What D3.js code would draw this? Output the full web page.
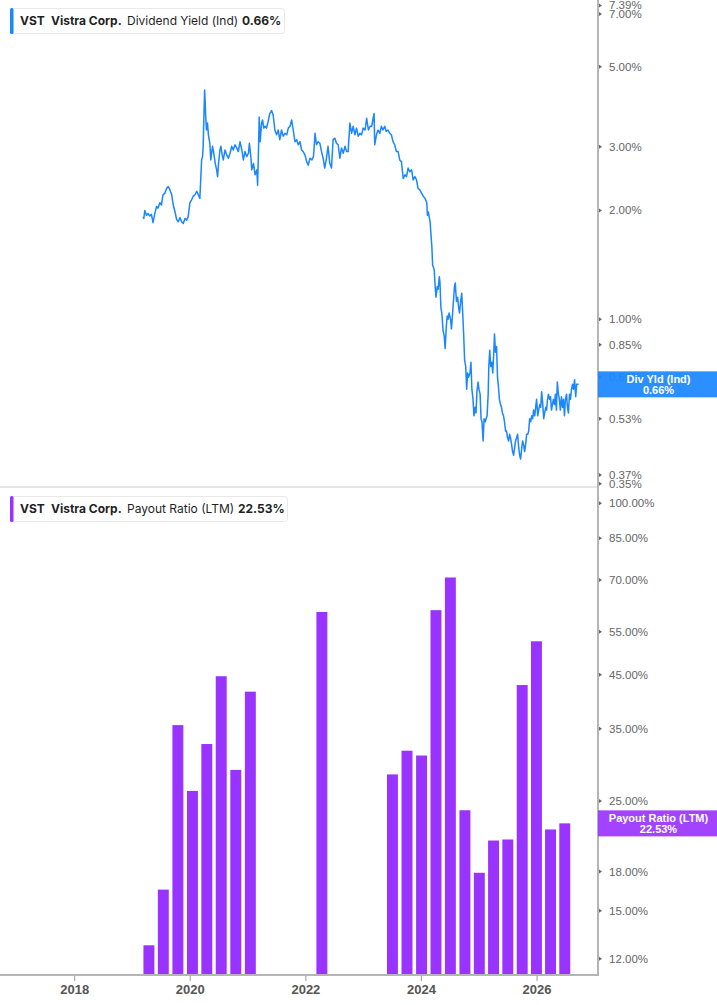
<!DOCTYPE html>
<html>
<head>
<meta charset="utf-8">
<script src="https://cdn.jsdelivr.net/npm/d3@7"></script>
<style>
  body { margin: 0; background: #fff; }
  svg { display: block; }
</style>
</head>
<body>
<script>
'use strict';

// dividend yield (ind), %
var yieldDates = [
  "2019-03-09","2019-03-14","2019-03-20","2019-03-31","2019-04-10","2019-04-20","2019-05-01","2019-05-11","2019-05-22","2019-06-02",
  "2019-06-12","2019-06-23","2019-07-03","2019-07-13","2019-07-24","2019-08-05","2019-08-15","2019-08-26","2019-09-06","2019-09-16",
  "2019-09-27","2019-10-07","2019-10-17","2019-10-28","2019-11-08","2019-11-18","2019-11-29","2019-12-09","2019-12-19","2019-12-30",
  "2020-01-10","2020-01-20","2020-01-31","2020-02-11","2020-02-21","2020-03-02","2020-03-13","2020-03-19","2020-03-23","2020-03-27",
  "2020-04-01","2020-04-04","2020-04-08","2020-04-13","2020-04-19","2020-04-26","2020-05-04","2020-05-10","2020-05-21","2020-05-29",
  "2020-06-07","2020-06-16","2020-06-22","2020-06-28","2020-07-07","2020-07-13","2020-07-21","2020-07-28","2020-08-08","2020-08-18",
  "2020-08-29","2020-09-09","2020-09-19","2020-09-29","2020-10-10","2020-10-21","2020-10-31","2020-11-11","2020-11-22","2020-12-02",
  "2020-12-12","2020-12-23","2021-01-03","2021-01-09","2021-01-18","2021-01-24","2021-02-04","2021-02-14","2021-02-25","2021-03-02",
  "2021-03-08","2021-03-12","2021-03-18","2021-03-27","2021-04-02","2021-04-10","2021-04-18","2021-04-27","2021-05-07","2021-05-18",
  "2021-05-29","2021-06-08","2021-06-19","2021-06-30","2021-07-10","2021-07-20","2021-07-31","2021-08-11","2021-08-22","2021-09-02",
  "2021-09-12","2021-09-23","2021-10-03","2021-10-13","2021-10-24","2021-11-04","2021-11-14","2021-11-25","2021-12-05","2021-12-15",
  "2021-12-26","2022-01-06","2022-01-16","2022-01-27","2022-02-08","2022-02-18","2022-02-28","2022-03-09","2022-03-19","2022-03-30",
  "2022-04-10","2022-04-20","2022-04-30","2022-05-11","2022-05-21","2022-06-01","2022-06-12","2022-06-22","2022-07-03","2022-07-13",
  "2022-07-24","2022-08-04","2022-08-14","2022-08-25","2022-09-05","2022-09-15","2022-09-25","2022-10-06","2022-10-17","2022-10-27",
  "2022-11-07","2022-11-17","2022-11-28","2022-12-08","2022-12-19","2022-12-29","2023-01-10","2023-01-20","2023-01-31","2023-02-11",
  "2023-02-21","2023-03-02","2023-03-08","2023-03-12","2023-03-23","2023-04-02","2023-04-13","2023-04-23","2023-05-03","2023-05-14",
  "2023-05-24","2023-06-04","2023-06-15","2023-06-25","2023-07-06","2023-07-16","2023-07-27","2023-08-07","2023-08-17","2023-08-28",
  "2023-09-08","2023-09-19","2023-09-29","2023-10-09","2023-10-20","2023-10-31","2023-11-10","2023-11-21","2023-12-01","2023-12-11",
  "2023-12-22","2024-01-03","2024-01-13","2024-01-24","2024-02-04","2024-02-08","2024-02-14","2024-02-25","2024-03-01","2024-03-07",
  "2024-03-12","2024-03-15","2024-03-22","2024-03-28","2024-04-02","2024-04-10","2024-04-16","2024-04-23","2024-04-27","2024-05-03",
  "2024-05-09","2024-05-17","2024-05-24","2024-05-30","2024-06-06","2024-06-12","2024-06-18","2024-06-24","2024-07-03","2024-07-09",
  "2024-07-15","2024-07-22","2024-07-28","2024-08-02","2024-08-06","2024-08-10","2024-08-17","2024-08-23","2024-08-29","2024-09-06",
  "2024-09-12","2024-09-18","2024-09-24","2024-09-30","2024-10-07","2024-10-13","2024-10-19","2024-10-25","2024-11-03","2024-11-09",
  "2024-11-15","2024-11-22","2024-11-28","2024-12-05","2024-12-11","2024-12-17","2024-12-24","2024-12-30","2025-01-06","2025-01-12",
  "2025-01-18","2025-01-25","2025-01-31","2025-02-07","2025-02-13","2025-02-19","2025-02-26","2025-03-02","2025-03-08","2025-03-14",
  "2025-03-21","2025-03-27","2025-04-03","2025-04-07","2025-04-13","2025-04-20","2025-04-26","2025-05-02","2025-05-08","2025-05-15",
  "2025-05-21","2025-05-27","2025-06-03","2025-06-09","2025-06-16","2025-06-22","2025-06-28","2025-07-05","2025-07-11","2025-07-17",
  "2025-07-24","2025-07-30","2025-08-06","2025-08-12","2025-08-18","2025-08-25","2025-08-31","2025-09-07","2025-09-13","2025-09-19",
  "2025-09-26","2025-10-02","2025-10-08","2025-10-14","2025-10-21","2025-10-27","2025-11-03","2025-11-09","2025-11-15","2025-11-22",
  "2025-11-28","2025-12-04","2025-12-10","2025-12-17","2025-12-23","2025-12-29","2026-01-05","2026-01-11","2026-01-18","2026-01-24",
  "2026-01-30","2026-02-06","2026-02-12","2026-02-18","2026-02-25","2026-03-02","2026-03-08","2026-03-14","2026-03-21","2026-03-27",
  "2026-04-02","2026-04-08","2026-04-14","2026-04-21","2026-04-27","2026-05-03","2026-05-09","2026-05-16","2026-05-22","2026-05-28",
  "2026-06-04","2026-06-11","2026-06-17","2026-06-23","2026-06-29","2026-07-06","2026-07-12","2026-07-18","2026-07-25","2026-07-31",
  "2026-08-07","2026-08-13","2026-08-19","2026-08-26","2026-09-02","2026-09-08","2026-09-14","2026-09-21"
];
var yieldValues = [
  1.92,1.90,2.00,1.94,1.96,1.93,1.95,1.85,1.96,2.05,
  2.03,2.10,2.07,2.21,2.23,2.30,2.33,2.28,2.21,2.07,
  1.98,1.89,1.86,1.91,1.86,1.84,1.90,1.88,1.92,2.10,
  2.14,2.19,2.21,2.26,2.21,2.16,2.76,2.82,3.01,3.56,
  4.31,4.05,3.63,3.34,3.49,3.21,3.07,2.76,3.01,2.88,
  2.70,2.59,2.48,2.70,2.94,3.01,2.85,2.76,2.94,2.85,
  2.79,2.88,3.01,2.94,3.04,2.98,2.91,3.10,2.94,2.76,
  2.91,2.82,2.88,3.07,2.82,2.59,2.70,2.51,2.59,2.35,
  3.01,3.63,3.10,3.49,3.56,3.38,3.42,3.38,3.52,3.71,
  3.78,3.68,3.34,3.24,3.34,3.14,3.34,3.21,3.27,3.24,
  3.38,3.42,3.56,3.34,3.10,3.14,3.04,3.10,2.94,2.91,
  2.85,2.73,2.67,2.79,2.76,2.82,3.27,3.04,3.10,3.07,
  2.91,2.79,2.62,2.79,3.01,2.70,2.62,3.14,3.17,3.07,
  3.04,2.79,2.98,2.88,3.01,2.91,2.91,3.49,3.27,3.42,
  3.24,3.38,3.21,3.27,3.24,3.38,3.34,3.60,3.34,3.42,
  3.42,3.60,3.71,3.04,3.24,3.34,3.27,3.42,3.34,3.42,
  3.31,3.34,3.27,3.24,3.10,3.04,2.91,2.91,2.76,2.73,
  2.45,2.51,2.48,2.62,2.56,2.59,2.43,2.48,2.43,2.30,
  2.28,2.23,2.19,2.16,2.10,1.94,1.98,1.86,1.73,1.59,
  1.41,1.40,1.37,1.23,1.15,1.23,1.21,1.31,1.27,1.08,
  1.04,0.93,0.90,0.83,0.95,1.02,1.00,1.04,1.00,0.94,
  1.02,1.13,1.23,1.26,1.18,1.12,1.15,1.08,1.04,1.13,
  1.18,1.04,0.91,0.77,0.74,0.64,0.71,0.69,0.71,0.76,
  0.64,0.60,0.54,0.57,0.55,0.63,0.67,0.64,0.62,0.53,
  0.52,0.46,0.53,0.52,0.53,0.54,0.62,0.74,0.82,0.74,
  0.76,0.71,0.82,0.91,0.81,0.84,0.69,0.65,0.60,0.58,
  0.57,0.55,0.54,0.52,0.49,0.49,0.47,0.46,0.48,0.47,
  0.45,0.43,0.42,0.44,0.46,0.47,0.48,0.44,0.42,0.41,
  0.44,0.46,0.45,0.43,0.45,0.48,0.48,0.49,0.53,0.52,
  0.54,0.53,0.56,0.54,0.57,0.60,0.54,0.56,0.58,0.57,
  0.63,0.58,0.53,0.55,0.57,0.56,0.60,0.62,0.60,0.61,
  0.56,0.58,0.60,0.58,0.62,0.56,0.67,0.62,0.60,0.56,
  0.61,0.57,0.60,0.54,0.60,0.62,0.57,0.55,0.62,0.60,
  0.64,0.66,0.64,0.68,0.61,0.66,0.66,0.66
];

// payout ratio (LTM), %
var payoutDates = [
  "2019-04-15","2019-07-15","2019-10-15","2020-01-15","2020-04-15","2020-07-15","2020-10-15","2021-01-15",
  "2022-04-12",
  "2023-07-02","2023-10-02","2024-01-02","2024-04-02","2024-07-02","2024-10-02","2025-01-01","2025-04-01",
  "2025-06-30","2025-09-29","2025-12-28","2026-03-27","2026-06-25"
];
var payoutValues = [
  12.77,16.55,35.6,26.2,32.6,44.7,28.9,41.6,
  60.3,
  28.3,31.6,30.9,60.8,70.8,23.95,17.9,20.8,
  20.9,42.9,52.6,21.9,22.53
];

var yieldTicks = [7.39, 7.00, 5.00, 3.00, 2.00, 1.00, 0.85, 0.69, 0.53, 0.37, 0.35];
var payoutTicks = [100, 85, 70, 55, 45, 35, 25, 18, 15, 12];
var yearTicks = ["2018", "2020", "2022", "2024", "2026"];

var width = 717, height = 1005;
var plotRight = 598, topBottom = 487, botTop = 488, botBottom = 975;
var blue = "#1a86ff", purple = "#9933ff";
var tickFont = "'Liberation Sans', Arial, sans-serif";
var legendFont = "Inter, 'Noto Sans', sans-serif";

var parseDate = d3.timeParse("%Y-%m-%d");

var svg = d3.select("body").append("svg")
    .attr("width", width)
    .attr("height", height);

svg.append("rect").attr("width", width).attr("height", height).attr("fill", "#fff");

var x = d3.scaleTime()
    .domain([parseDate("2016-09-16"), parseDate("2027-01-21")])
    .range([0, plotRight]);

var yTop = d3.scaleLog()
    .domain([0.343, 7.65])
    .range([topBottom, 0]);

var yBot = d3.scaleLog()
    .domain([11.12, 107.4])
    .range([botBottom, botTop]);

// ---- top panel: dividend yield line
var yieldData = yieldDates.map(function (d, i) {
    return { date: parseDate(d), value: yieldValues[i] };
});

var line = d3.line()
    .x(function (d) { return x(d.date); })
    .y(function (d) { return yTop(d.value); });

svg.append("path")
    .datum(yieldData)
    .attr("fill", "none")
    .attr("stroke", blue)
    .attr("stroke-width", 1.5)
    .attr("stroke-linejoin", "round")
    .attr("d", line);

// ---- bottom panel: payout bars
var payoutData = payoutDates.map(function (d, i) {
    return { date: parseDate(d), value: payoutValues[i] };
});
var barW = (x(parseDate("2020-04-15")) - x(parseDate("2020-01-15"))) * 0.76;

svg.append("g").selectAll("rect")
    .data(payoutData)
    .enter().append("rect")
    .attr("x", function (d) { return x(d.date) - barW / 2; })
    .attr("y", function (d) { return yBot(d.value); })
    .attr("width", barW)
    .attr("height", function (d) { return botBottom - yBot(d.value); })
    .attr("fill", purple);

// ---- separators and axis lines
svg.append("line")
    .attr("x1", 0).attr("x2", plotRight)
    .attr("y1", topBottom).attr("y2", topBottom)
    .attr("stroke", "#dcdcdc").attr("stroke-width", 1.5);

svg.append("line")
    .attr("x1", plotRight).attr("x2", plotRight)
    .attr("y1", 0).attr("y2", botBottom)
    .attr("stroke", "#b5b5b5").attr("stroke-width", 2);

svg.append("line")
    .attr("x1", 0).attr("x2", plotRight + 1)
    .attr("y1", botBottom).attr("y2", botBottom)
    .attr("stroke", "#b5b5b5").attr("stroke-width", 2);

// right y axes
function drawYTicks(scale, ticks, fmt) {
    var g = svg.append("g");
    var t = g.selectAll("g").data(ticks).enter().append("g")
        .attr("transform", function (d) { return "translate(" + plotRight + "," + scale(d) + ")"; });
    t.append("path")
        .attr("d", "M1,-2L4,0L1,2Z")
        .attr("fill", "#666");
    t.append("text")
        .attr("x", 11)
        .attr("dy", "0.35em")
        .attr("font-family", tickFont)
        .attr("font-size", 11.5)
        .attr("fill", "#666")
        .text(fmt);
}
drawYTicks(yTop, yieldTicks, function (d) { return d.toFixed(2) + "%"; });
drawYTicks(yBot, payoutTicks, function (d) { return d.toFixed(2) + "%"; });

// x axis
var xAxis = svg.append("g")
    .attr("transform", "translate(0," + botBottom + ")");
var xt = xAxis.selectAll("g").data(yearTicks).enter().append("g")
    .attr("transform", function (d) { return "translate(" + x(parseDate(d + "-01-01")) + ",0)"; });
xt.append("line").attr("y1", 1).attr("y2", 6).attr("stroke", "#999").attr("stroke-width", 1);
xt.append("text")
    .attr("y", 19)
    .attr("text-anchor", "middle")
    .attr("font-family", tickFont)
    .attr("font-weight", "bold")
    .attr("font-size", 13)
    .attr("fill", "#555")
    .text(function (d) { return d; });

// ---- last value labels on the right
function valueLabel(yv, title, val, color) {
    var g = svg.append("g").attr("transform", "translate(" + plotRight + "," + (yv - 13) + ")");
    g.append("rect")
        .attr("width", width - plotRight)
        .attr("height", 26)
        .attr("fill", color)
        .attr("fill-opacity", 0.92);
    var cx = (width - plotRight) / 2 + 1;
    g.append("text").attr("x", cx).attr("y", 11.5)
        .attr("text-anchor", "middle")
        .attr("font-family", tickFont).attr("font-weight", "bold").attr("font-size", 11)
        .attr("fill", "#fff").text(title);
    g.append("text").attr("x", cx).attr("y", 22.5)
        .attr("text-anchor", "middle")
        .attr("font-family", tickFont).attr("font-weight", "bold").attr("font-size", 11)
        .attr("fill", "#fff").text(val);
}
var lastYield = yieldValues[yieldValues.length - 1];
var lastPayout = payoutValues[payoutValues.length - 1];
valueLabel(yTop(lastYield), "Div Yld (Ind)", lastYield.toFixed(2) + "%", blue);
valueLabel(yBot(lastPayout), "Payout Ratio (LTM)", lastPayout.toFixed(2) + "%", purple);

// ---- legends
function legend(top, w, color, parts) {
    var g = svg.append("g").attr("transform", "translate(10," + top + ")");
    g.append("rect")
        .attr("x", 0.5).attr("y", 0.5)
        .attr("width", w).attr("height", 25)
        .attr("rx", 3)
        .attr("fill", "#fff")
        .attr("stroke", "#e8e8e8");
    g.append("rect")
        .attr("x", 0).attr("y", 0)
        .attr("width", 3.5).attr("height", 26)
        .attr("rx", 1.5)
        .attr("fill", color);
    parts.forEach(function (p) {
        g.append("text")
            .attr("x", p[0]).attr("y", 17)
            .attr("font-family", legendFont)
            .attr("font-size", 12)
            .attr("font-weight", p[2] ? 700 : 400)
            .attr("fill", "#1f1f1f")
            .text(p[1]);
    });
}
legend(8, 274, blue, [[10, "VST", 1], [41, "Vistra Corp.", 1], [117, "Dividend Yield (Ind)", 0], [232, lastYield.toFixed(2) + "%", 1]]);
legend(496, 277, purple, [[10, "VST", 1], [41, "Vistra Corp.", 1], [117, "Payout Ratio (LTM)", 0], [228, lastPayout.toFixed(2) + "%", 1]]);
</script>
</body>
</html>
